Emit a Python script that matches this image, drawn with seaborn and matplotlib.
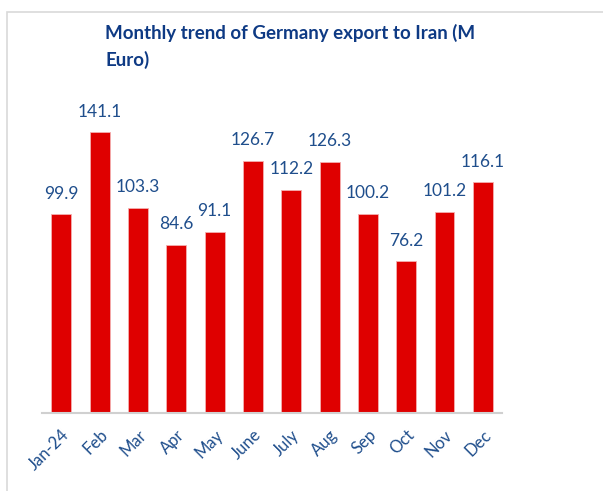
import matplotlib
matplotlib.use("Agg")
import matplotlib.pyplot as plt
import pandas as pd
import seaborn as sns

sns.set_theme(style="white")
plt.rcParams['font.family'] = ['Lato', 'DejaVu Sans']

months = ["Jan-24", "Feb", "Mar", "Apr", "May", "June", "July", "Aug", "Sep", "Oct", "Nov", "Dec"]
values = [99.9, 141.1, 103.3, 84.6, 91.1, 126.7, 112.2, 126.3, 100.2, 76.2, 101.2, 116.1]
title = "Monthly trend of Germany export to Iran (M\nEuro)"

red = "#DF0000"
blue = "#1F4E8C"
dark_blue = "#0E3A84"

df = pd.DataFrame({"month": months, "value": values})

fig = plt.figure(figsize=(6.03, 4.91), dpi=100)
ax = fig.add_axes([0.07, 0.159, 0.7625, 0.648])

sns.barplot(data=df, x="month", y="value", color=red, width=0.52,
            saturation=1, ax=ax, edgecolor="#F4B0B0", linewidth=0.6)

for i, v in enumerate(values):
    ax.annotate(f"{v:.1f}", (i, v), xytext=(0, 9), textcoords="offset points",
                ha="center", va="bottom", fontsize=12.5, color=blue)

ax.set_ylim(0, 160)
ax.set_xlim(-0.5, 11.5)
ax.set_xlabel("")
ax.set_ylabel("")
ax.set_yticks([])
for s in ["top", "right", "left"]:
    ax.spines[s].set_visible(False)
ax.spines["bottom"].set_color("#D0D0D0")
ax.spines["bottom"].set_linewidth(1.5)
ax.tick_params(axis="x", length=0, pad=10)
for lab in ax.get_xticklabels():
    lab.set_rotation(45)
    lab.set_ha("right")
    lab.set_rotation_mode("anchor")
    lab.set_color(blue)
    lab.set_fontsize(12)

# outer frame like the spreadsheet chart area
frame = plt.Rectangle((7 / 603, -0.1), 1.2, 1 - 12 / 491 + 0.1, transform=fig.transFigure,
                      fill=False, edgecolor="#D9D9D9", linewidth=1.2)
fig.patches.append(frame)

fig.text(105 / 603, 1 - 24 / 491, title, ha="left", va="top", fontsize=13.5,
         fontweight="bold", color=dark_blue, linespacing=1.6)

fig.savefig("out.png", dpi=100, facecolor="white")
